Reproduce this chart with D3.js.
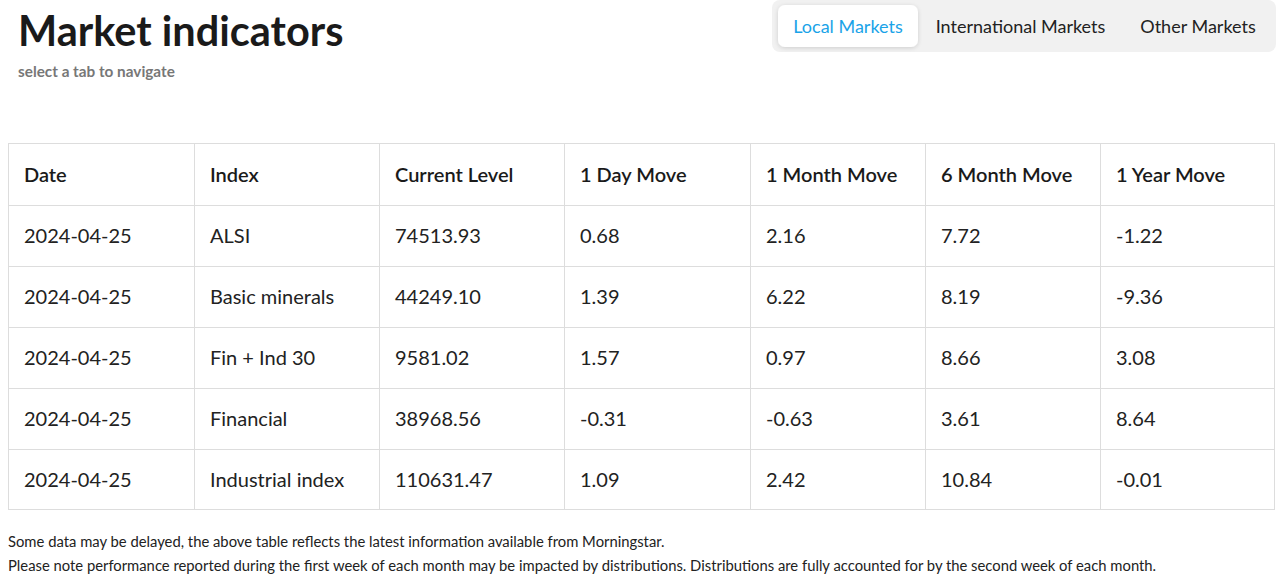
<!DOCTYPE html>
<html><head><meta charset="utf-8">
<script src="https://cdn.jsdelivr.net/npm/d3@7"></script>
<style>body{margin:0;background:#fff;font-family:Lato,sans-serif}</style>
</head><body><svg id="c" width="1282" height="576"></svg>
<script>
const headers=["Date","Index","Current Level","1 Day Move","1 Month Move","6 Month Move","1 Year Move"];
const dates=["2024-04-25","2024-04-25","2024-04-25","2024-04-25","2024-04-25"];
const indices=["ALSI","Basic minerals","Fin + Ind 30","Financial","Industrial index"];
const levels=["74513.93","44249.10","9581.02","38968.56","110631.47"];
const day=["0.68","1.39","1.57","-0.31","1.09"];
const month=["2.16","6.22","0.97","-0.63","2.42"];
const six=["7.72","8.19","8.66","3.61","10.84"];
const year=["-1.22","-9.36","3.08","8.64","-0.01"];
const tabs=["Local Markets","International Markets","Other Markets"];
const notes=["Some data may be delayed, the above table reflects the latest information available from Morningstar.","Please note performance reported during the first week of each month may be impacted by distributions. Distributions are fully accounted for by the second week of each month."];

const svg=d3.select("#c");
const defs=svg.append("defs");
const f=defs.append("filter").attr("id","sh").attr("x","-20%").attr("y","-30%").attr("width","140%").attr("height","160%");
f.append("feDropShadow").attr("dx",0).attr("dy",1).attr("stdDeviation",2).attr("flood-opacity",0.15);

svg.append("text").attr("x",18).attr("y",46).attr("font-size",41.5).attr("font-weight",700).attr("fill","#1a1a1a").text("Market indicators");
svg.append("text").attr("x",18).attr("y",77).attr("font-size",15.3).attr("font-weight",700).attr("fill","#777").text("select a tab to navigate");

svg.append("rect").attr("x",772).attr("y",0).attr("width",504).attr("height",52).attr("rx",8).attr("fill","#f1f1f1");
const tabX=[778,918,1123], tabW=[140,205,150];
svg.append("rect").attr("x",778).attr("y",5).attr("width",140).attr("height",42).attr("rx",7).attr("fill","#fff").attr("filter","url(#sh)");
svg.selectAll(".tab").data(tabs).join("text").attr("x",(d,i)=>tabX[i]+tabW[i]/2).attr("y",33).attr("text-anchor","middle")
 .attr("font-size",18).attr("fill",(d,i)=>i==0?"#1aa3e8":"#222").text(d=>d);

const rows=d3.range(5).map(i=>[dates[i],indices[i],levels[i],day[i],month[i],six[i],year[i]]);
const edges=[8,194,379,564,750,925,1100,1275];
const x=i=>edges[i];
const y=d3.scaleLinear().domain([0,1]).range([205,266]);
const tableTop=143;
const g=svg.append("g");
g.append("rect").attr("x",8.5).attr("y",tableTop+.5).attr("width",1266).attr("height",366).attr("fill","none").attr("stroke","#ddd");
edges.slice(1,-1).forEach(e=>g.append("line").attr("x1",e+.5).attr("x2",e+.5).attr("y1",tableTop).attr("y2",510).attr("stroke","#ddd"));
d3.range(5).forEach(r=>g.append("line").attr("x1",8).attr("x2",1275).attr("y1",Math.round(y(r))+.5).attr("y2",Math.round(y(r))+.5).attr("stroke","#ddd"));
g.selectAll(".h").data(headers).join("text").attr("x",(d,i)=>x(i)+16).attr("y",182).attr("font-size",20).attr("font-weight",600).attr("fill","#1a1a1a").text(d=>d);
rows.forEach((row,r)=>{
 g.selectAll(".r"+r).data(row).join("text").attr("x",(d,i)=>x(i)+16).attr("y",y(r)+38).attr("font-size",20).attr("fill","#222").text(d=>d);
});
svg.selectAll(".n").data(notes).join("text").attr("x",8).attr("y",(d,i)=>547+i*24).attr("font-size",14.8).attr("fill","#222").text(d=>d);
</script></body></html>
